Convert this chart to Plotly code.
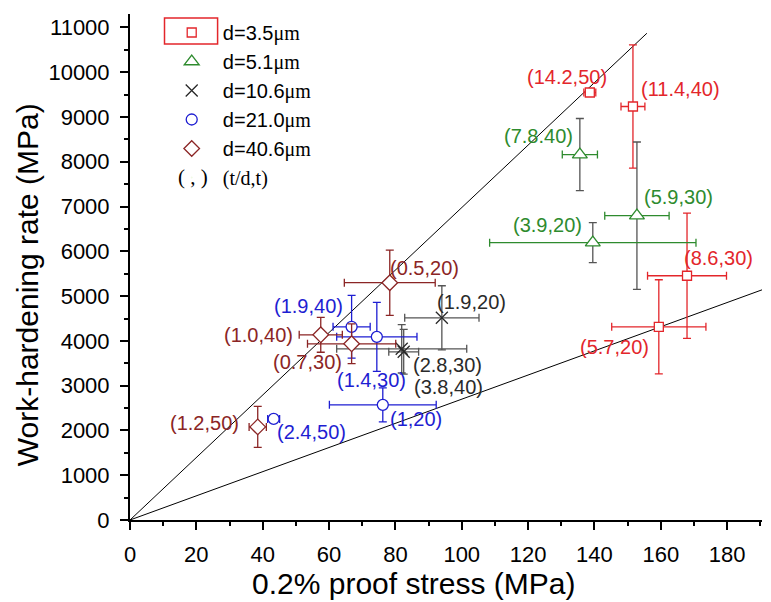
import plotly.graph_objects as go

# ---------------- data ----------------
# d = 3.5 um (squares)
sq_x = [138.6, 151.6, 167.9, 159.4]
sq_y = [9547, 9234, 5455, 4315]
sq_xerr = [1.8, 3.6, 11.9, 14.2]
sq_yerr = [0, 1375, 1400, 1050]
sq_lab = ["(14.2,50)", "(11.4,40)", "(8.6,30)", "(5.7,20)"]

# d = 5.1 um (triangles)
tri_x = [135.6, 152.8, 139.5]
tri_y = [8161, 6797, 6193]
tri_xerr = [5.3, 9.7, 31.1]
tri_yerr = [805, 1645, 447]
tri_lab = ["(7.8.40)", "(5.9,30)", "(3.9,20)"]

# d = 10.6 um (crosses)
cr_x = [94.0, 81.9, 82.5]
cr_y = [4516, 3823, 3756]
cr_xerr = [11.2, 19.6, 4.5]
cr_yerr = [715, 540, 500]
cr_lab = ["(1.9,20)", "(2.8,30)", "(3.8,40)"]

# d = 21.0 um (circles)
ci_x = [66.8, 74.4, 76.2, 43.3]
ci_y = [4315, 4091, 2571, 2258]
ci_xerr = [5.6, 12.1, 16.1, 1.8]
ci_yerr = [700, 770, 380, 0]
ci_lab = ["(1.9,40)", "(1.4,30)", "(1,20)", "(2.4,50)"]

# d = 40.6 um (diamonds)
di_x = [78.3, 57.5, 66.8, 38.5]
di_y = [5299, 4136, 3935, 2079]
di_xerr = [13.7, 6.5, 13.3, 2.6]
di_yerr = [730, 390, 445, 458]
di_lab = ["(0.5,20)", "(1.0,40)", "(0.7,30)", "(1.2,50)"]

# reference lines through the origin
line1_x = [0, 155.8]
line1_y = [0, 10870]
line2_x = [0, 190.5]
line2_y = [0, 5140]

# ---------------- styling ----------------
RED = "#E3262B"
GREEN = "#2E8B2E"
BLACK = "#2A2A2A"
BLUE = "#1E1ED2"
BROWN = "#8B2525"
GREY = "#555555"

# label pixel offsets (dx right, dy up)
sq_off = [(-23, 16), (48, 18), (31, 18), (-44, -20)]
tri_off = [(-41, 19), (42, 19), (-45, 18)]
cr_off = [(30, 16), (46, -16), (45, -35)]
ci_off = [(-43, 21), (-5, -43), (33, -14), (38, -13)]
di_off = [(35, 15), (-62, 0), (-44, -18), (-53, 4)]

SERIF = "Liberation Serif, Times New Roman, serif"
SANS = "Arial, Liberation Sans, sans-serif"


def um(s):
    return "\u00a0\u00a0" + s + "<span style='font-family:Liberation Serif'>\u03bcm</span>"


fig = go.Figure()

fig.add_trace(go.Scatter(x=line1_x, y=line1_y, mode="lines",
                         line=dict(color="black", width=1), showlegend=False,
                         hoverinfo="skip"))
fig.add_trace(go.Scatter(x=line2_x, y=line2_y, mode="lines",
                         line=dict(color="black", width=1), showlegend=False,
                         hoverinfo="skip"))


def add_series(x, y, xe, ye, name, symbol, color, size, xcol, ycol, fill="white", lw=1.3):
    fig.add_trace(go.Scatter(
        x=x, y=y, mode="markers", name=name,
        marker=dict(symbol=symbol, size=size, color=fill,
                    line=dict(color=color, width=lw)),
        error_x=dict(type="data", array=xe, visible=True, color=xcol,
                     thickness=1.3, width=4),
        error_y=dict(type="data", array=ye, visible=True, color=ycol,
                     thickness=1.3, width=4),
    ))


add_series(sq_x, sq_y, sq_xerr, sq_yerr, um("d=3.5"), "square", RED, 9, RED, RED)
add_series(tri_x, tri_y, tri_xerr, tri_yerr, um("d=5.1"), "triangle-up", GREEN, 13, GREEN, GREY)
add_series(cr_x, cr_y, cr_xerr, cr_yerr, um("d=10.6"), "x-thin", BLACK, 12, GREY, GREY, fill=BLACK)
add_series(ci_x, ci_y, ci_xerr, ci_yerr, um("d=21.0"), "circle", BLUE, 11, BLUE, BLUE)
add_series(di_x, di_y, di_xerr, di_yerr, um("d=40.6"), "diamond", BROWN, 12, BROWN, BROWN)

# last legend line: "( , )  (t/d,t)"
fig.add_trace(go.Scatter(x=[None], y=[None], mode="markers",
                         name="\u00a0\u00a0<span style='font-family:Liberation Serif'>(t/d,t)</span>",
                         marker=dict(size=1, opacity=0)))

annotations = []
for xs, ys, labs, offs, col in [
    (sq_x, sq_y, sq_lab, sq_off, RED),
    (tri_x, tri_y, tri_lab, tri_off, GREEN),
    (cr_x, cr_y, cr_lab, cr_off, BLACK),
    (ci_x, ci_y, ci_lab, ci_off, BLUE),
    (di_x, di_y, di_lab, di_off, BROWN),
]:
    for xv, yv, t, (dx, dy) in zip(xs, ys, labs, offs):
        annotations.append(dict(x=xv, y=yv, xref="x", yref="y", text=t,
                                showarrow=False, xshift=dx, yshift=dy,
                                font=dict(family=SANS, size=20, color=col)))

# axis titles
annotations.append(dict(x=0.449, y=-0.125, xref="paper", yref="paper",
                        text="0.2% proof stress (MPa)", showarrow=False,
                        font=dict(family=SANS, size=30, color="black"),
                        xanchor="center", yanchor="middle"))
annotations.append(dict(x=-0.163, y=0.466, xref="paper", yref="paper",
                        text="Work-hardening rate (MPa)", showarrow=False,
                        textangle=-90,
                        font=dict(family=SANS, size=30, color="black"),
                        xanchor="center", yanchor="middle"))
# "( , )" in the legend's symbol column
annotations.append(dict(x=0.10, y=0.678, xref="paper", yref="paper",
                        text="( , )", showarrow=False,
                        font=dict(family=SERIF, size=21, color="black"),
                        xanchor="center", yanchor="middle"))

fig.update_layout(
    width=771, height=602,
    margin=dict(l=130, r=9, t=14, b=82),
    paper_bgcolor="white", plot_bgcolor="white",
    annotations=annotations,
    legend=dict(x=0.066, y=1.002, xanchor="left", yanchor="top",
                bgcolor="rgba(0,0,0,0)", font=dict(family=SANS, size=20, color="black"),
                tracegroupgap=0),
    shapes=[dict(type="rect", xref="paper", yref="paper",
                 x0=0.0546, x1=0.1386, y0=0.9407, y1=0.992,
                 line=dict(color=RED, width=1.5))],
)

fig.update_xaxes(range=[0, 190.5], dtick=20, tick0=0, showgrid=False, zeroline=False,
                 showline=True, linecolor="black", linewidth=2,
                 ticks="outside", ticklen=8, tickwidth=2, tickcolor="black",
                 minor=dict(dtick=10, ticks="outside", ticklen=4, tickwidth=2,
                            tickcolor="black", showgrid=False),
                 tickfont=dict(family=SANS, size=22, color="black"),
                 ticklabelstandoff=6)
fig.update_yaxes(range=[0, 11300], dtick=1000, tick0=0, showgrid=False, zeroline=False,
                 showline=True, linecolor="black", linewidth=2,
                 ticks="outside", ticklen=8, tickwidth=2, tickcolor="black",
                 minor=dict(dtick=500, ticks="outside", ticklen=4, tickwidth=2,
                            tickcolor="black", showgrid=False),
                 tickfont=dict(family=SANS, size=22, color="black"),
                 tickformat="d", ticklabelstandoff=6)

fig.write_html("out.html")
